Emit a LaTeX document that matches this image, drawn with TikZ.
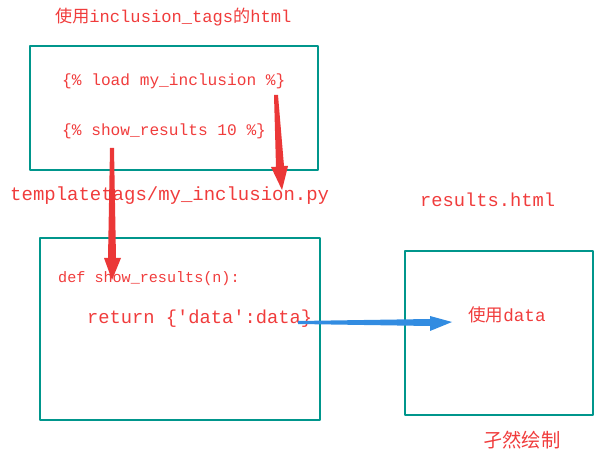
\documentclass[tikz,border=0pt]{standalone}
\usepackage{fontspec}
\setmonofont{Liberation Mono}
\newfontfamily\cjk{Noto Sans CJK SC}
\usetikzlibrary{arrows.meta}
\definecolor{boxteal}{RGB}{0,150,140}
\definecolor{txtred}{RGB}{240,60,60}
\definecolor{arrred}{RGB}{235,55,55}
\definecolor{arrblue}{RGB}{50,140,225}
\begin{document}
\begin{tikzpicture}[x=0.03cm,y=-0.03cm,line join=round]
\tikzset{codebox/.style={draw=boxteal,line width=1.8pt},
  code/.style={text=txtred,font=\ttfamily,anchor=west,inner sep=0pt}}
\useasboundingbox (0,0) rectangle (615,459);
% boxes
\draw[codebox] (30,46) rectangle (318,170);
\draw[codebox] (40,238) rectangle (320,420);
\draw[codebox] (405,251) rectangle (593,415);
% texts
\node[code,font=\cjk\fontsize{14.6}{16}\selectfont] (title) at (55,17) {使用\texttt{inclusion\_tags}的\texttt{html}};
\node[code,font=\ttfamily\fontsize{13.8}{15}\selectfont] (load) at (62,81) {\{\% load my\_inclusion \%\}};
\node[code,font=\ttfamily\fontsize{13.8}{15}\selectfont] (show) at (62,131) {\{\% show\_results 10 \%\}};
\node[code,font=\ttfamily\fontsize{16.2}{18}\selectfont] (py) at (10,196) {templatetags/my\_inclusion.py};
\node[code,font=\ttfamily\fontsize{16}{18}\selectfont] (res) at (420,200) {results.html};
\node[code,font=\ttfamily\fontsize{12.9}{14}\selectfont] (def) at (58,279) {def show\_results(n):};
\node[code,font=\ttfamily\fontsize{16}{18}\selectfont] (ret) at (87,319) {return \{'data':data\}};
\node[code,font=\cjk\fontsize{15}{17}\selectfont] (use) at (468,315) {使用\texttt{data}};
\node[code,font=\cjk\fontsize{16.5}{18}\selectfont] (sign) at (483,440) {孑然绘制};
% tapering arrows
\fill[arrred] (110,148) -- (114,148) -- (116,258) -- (121,258) -- (112,280) -- (104,258) -- (108,258) -- cycle;
\fill[arrred] (274,95) -- (278,95) -- (284,166) -- (288,166) -- (282,190) -- (271,167) -- (276,167) -- cycle;
\fill[arrblue] (298,321) -- (298,324) -- (430,326) -- (430,331) -- (452,322) -- (430,316) -- (430,319) -- cycle;
\end{tikzpicture}
\end{document}
